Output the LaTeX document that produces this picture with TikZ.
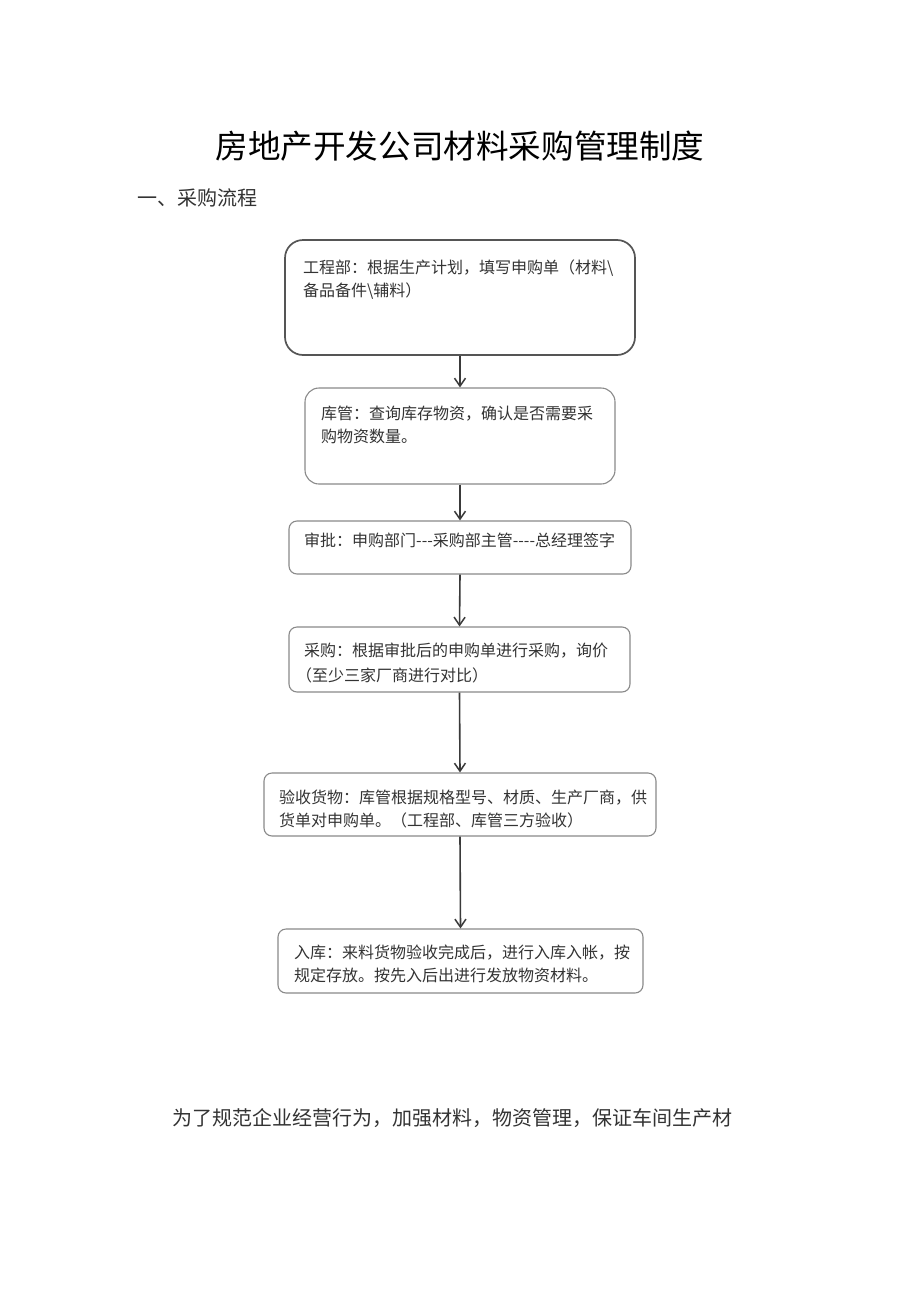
\documentclass[tikz,border=0pt]{standalone}
\usepackage{fontspec}
\newfontfamily\cjk{Noto Sans CJK SC}
\usetikzlibrary{arrows.meta}
\definecolor{boxdark}{HTML}{555555}
\definecolor{boxgray}{HTML}{8A8A8A}
\definecolor{txtgray}{HTML}{333333}
\definecolor{arrowcol}{HTML}{3A3A3A}
\tikzset{
  flowbox/.style={draw=boxgray, line width=1.1pt, rounded corners=8pt, minimum width=#1, inner sep=0pt},
  boxtxt/.style={anchor=base west, inner sep=0pt, text=txtgray, font=\cjk\fontsize{16}{20}\selectfont},
  flowarrow/.style={draw=arrowcol, line width=1.6pt, -{Straight Barb[length=8pt,width=11pt,line width=1.5pt]}},
}
\begin{document}
\begin{tikzpicture}[x=1pt,y=-1pt]
\useasboundingbox (0,0) rectangle (920,1301);
\fill[white] (0,0) rectangle (920,1301);
% title and headings
\node[anchor=base, inner sep=0pt, font=\cjk\fontsize{32.6}{38}\selectfont, text=black] (title) at (460,158) {房地产开发公司材料采购管理制度};
\node[anchor=base west, inner sep=0pt, font=\cjk\fontsize{20}{24}\selectfont, text=txtgray] (sec) at (137,205) {一、采购流程};
\node[anchor=base west, inner sep=0pt, font=\cjk\fontsize{20}{24}\selectfont, text=txtgray] (para) at (172,1125) {为了规范企业经营行为，加强材料，物资管理，保证车间生产材};
% boxes
\node[flowbox=350, minimum height=115, draw=boxdark, line width=1.7pt, rounded corners=18pt] (b1) at (460,297.5) {};
\node[flowbox=310, minimum height=96, rounded corners=14pt] (b2) at (460,436) {};
\node[flowbox=342, minimum height=53] (b3) at (460,547.5) {};
\node[flowbox=341, minimum height=65] (b4) at (459.5,659.5) {};
\node[flowbox=392, minimum height=63] (b5) at (460,804.5) {};
\node[flowbox=365, minimum height=64] (b6) at (460.5,961) {};
% texts
\node[boxtxt] (t1a) at (303,273) {工程部：根据生产计划，填写申购单（材料\textbackslash};
\node[boxtxt] (t1b) at (303,296) {备品备件\textbackslash 辅料）};
\node[boxtxt] (t2a) at (321,419) {库管：查询库存物资，确认是否需要采};
\node[boxtxt] (t2b) at (321,442) {购物资数量。};
\node[boxtxt] (t3a) at (304,546) {审批：申购部门---采购部主管----总经理签字};
\node[boxtxt] (t4a) at (304,656) {采购：根据审批后的申购单进行采购，询价};
\node[boxtxt] (t4b) at (296,681) {（至少三家厂商进行对比）};
\node[boxtxt] (t5a) at (279,803) {验收货物：库管根据规格型号、材质、生产厂商，供};
\node[boxtxt] (t5b) at (279,826) {货单对申购单。（工程部、库管三方验收）};
\node[boxtxt] (t6a) at (294,958) {入库：来料货物验收完成后，进行入库入帐，按};
\node[boxtxt] (t6b) at (294,981) {规定存放。按先入后出进行发放物资材料。};
% arrows
\draw[flowarrow] (b1.south) -- (b2.north);
\draw[flowarrow] (b2.south) -- (b3.north);
\draw[flowarrow] (b3.south) -- (b4.north);
\draw[flowarrow] (b4.south) -- (b5.north);
\draw[flowarrow] (b5.south) -- (b6.north);
\end{tikzpicture}
\end{document}
